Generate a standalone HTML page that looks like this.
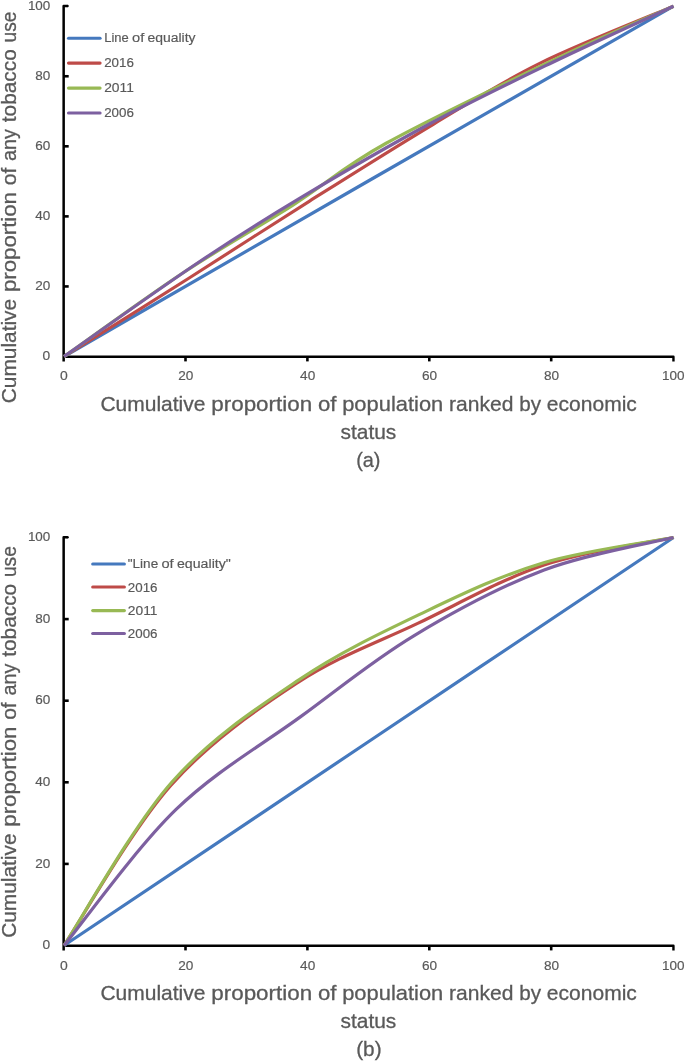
<!DOCTYPE html>
<html lang="en">
<head>
<meta charset="utf-8">
<title>Concentration curves of tobacco use</title>
<style>
html,body{margin:0;padding:0;background:#fff;}
body{width:685px;height:1061px;overflow:hidden;}
svg{display:block;filter:blur(0.45px);}
svg text{font-family:'Liberation Sans', sans-serif;fill:#595959;stroke:#595959;stroke-width:0.3px;}
svg text.s{stroke-width:0.18px;}
</style>
</head>
<body>
<svg width="685" height="1061" viewBox="0 0 685 1061">
<rect width="685" height="1061" fill="#fff"/>
<g id="chart-a">
<path d="M67.50 6.00 H63.65 V361.40" stroke="#000" stroke-width="2.50" stroke-linejoin="round" fill="none"/>
<circle cx="67.50" cy="6.00" r="1.25" fill="#000"/>
<path d="M63.65 356.75 H673.45 V361.40" stroke="#000" stroke-width="2.40" stroke-linejoin="round" fill="none"/>
<path d="M64.00 286.44 H68.70" stroke="#000" stroke-width="2.6"/>
<path d="M64.00 216.38 H68.70" stroke="#000" stroke-width="2.6"/>
<path d="M64.00 146.32 H68.70" stroke="#000" stroke-width="2.6"/>
<path d="M64.00 76.26 H68.70" stroke="#000" stroke-width="2.6"/>
<path d="M185.50 356.50 V361.40" stroke="#000" stroke-width="2.6"/>
<path d="M307.40 356.50 V361.40" stroke="#000" stroke-width="2.6"/>
<path d="M429.30 356.50 V361.40" stroke="#000" stroke-width="2.6"/>
<path d="M551.20 356.50 V361.40" stroke="#000" stroke-width="2.6"/>
<path d="M64.00 356.50 C114.79 327.21 267.17 239.13 368.75 180.75 C470.33 122.37 622.71 35.29 673.50 6.20" fill="none" stroke="#4579be" stroke-width="3.20" stroke-linejoin="round"/>
<path d="M64.00 356.50 C84.73 343.50 147.53 304.39 188.40 278.52 C229.27 252.65 268.39 226.98 309.20 201.28 C350.02 175.57 394.79 147.31 433.30 124.28 C471.81 101.26 500.23 82.80 540.26 63.12 C580.30 43.44 651.29 15.69 673.50 6.20" fill="none" stroke="#be4b48" stroke-width="3.20" stroke-linejoin="round"/>
<path d="M64.00 356.50 C83.80 342.59 144.57 298.30 182.79 273.02 C221.02 247.74 259.47 226.44 293.35 204.82 C327.24 183.19 341.57 167.97 386.12 143.27 C430.68 118.57 512.79 79.45 560.68 56.60 C608.58 33.76 654.70 14.60 673.50 6.20" fill="none" stroke="#98b954" stroke-width="3.20" stroke-linejoin="round"/>
<path d="M64.00 356.50 C86.32 340.88 158.72 289.09 197.91 262.79 C237.10 236.49 260.50 221.86 299.15 198.69 C337.79 175.51 387.48 146.50 429.76 123.76 C472.04 101.01 512.20 81.80 552.82 62.21 C593.44 42.62 653.39 15.53 673.50 6.20" fill="none" stroke="#7d60a0" stroke-width="3.20" stroke-linejoin="round"/>
<text class="s" x="42.63" y="360.25" font-size="13.70" textLength="7.67" lengthAdjust="spacingAndGlyphs">0</text>
<text class="s" x="35.25" y="290.19" font-size="13.70" textLength="15.05" lengthAdjust="spacingAndGlyphs">20</text>
<text class="s" x="35.25" y="220.13" font-size="13.70" textLength="15.05" lengthAdjust="spacingAndGlyphs">40</text>
<text class="s" x="35.25" y="150.07" font-size="13.70" textLength="15.05" lengthAdjust="spacingAndGlyphs">60</text>
<text class="s" x="35.25" y="80.01" font-size="13.70" textLength="15.05" lengthAdjust="spacingAndGlyphs">80</text>
<text class="s" x="27.88" y="9.95" font-size="13.70" textLength="22.42" lengthAdjust="spacingAndGlyphs">100</text>
<text class="s" x="59.96" y="380.20" font-size="13.70" textLength="7.77" lengthAdjust="spacingAndGlyphs">0</text>
<text class="s" x="178.18" y="380.20" font-size="13.70" textLength="15.15" lengthAdjust="spacingAndGlyphs">20</text>
<text class="s" x="300.08" y="380.20" font-size="13.70" textLength="15.15" lengthAdjust="spacingAndGlyphs">40</text>
<text class="s" x="421.98" y="380.20" font-size="13.70" textLength="15.15" lengthAdjust="spacingAndGlyphs">60</text>
<text class="s" x="543.88" y="380.20" font-size="13.70" textLength="15.15" lengthAdjust="spacingAndGlyphs">80</text>
<text class="s" x="662.09" y="380.20" font-size="13.70" textLength="22.52" lengthAdjust="spacingAndGlyphs">100</text>
<path d="M68.50 38.20 H100.10" stroke="#4579be" stroke-width="3.10" stroke-linecap="round"/>
<text class="s" y="42.00" font-size="13.70"><tspan x="104.20" textLength="24.51" lengthAdjust="spacingAndGlyphs">Line</tspan> <tspan x="132.02" textLength="12.20" lengthAdjust="spacingAndGlyphs">of</tspan> <tspan x="147.53" textLength="47.96" lengthAdjust="spacingAndGlyphs">equality</tspan></text>
<path d="M68.50 63.10 H100.10" stroke="#be4b48" stroke-width="3.10" stroke-linecap="round"/>
<text class="s" y="66.90" font-size="13.70"><tspan x="104.20" textLength="29.70" lengthAdjust="spacingAndGlyphs">2016</tspan></text>
<path d="M68.50 88.10 H100.10" stroke="#98b954" stroke-width="3.10" stroke-linecap="round"/>
<text class="s" y="91.90" font-size="13.70"><tspan x="104.20" textLength="29.70" lengthAdjust="spacingAndGlyphs">2011</tspan></text>
<path d="M68.50 113.00 H100.10" stroke="#7d60a0" stroke-width="3.10" stroke-linecap="round"/>
<text class="s" y="116.80" font-size="13.70"><tspan x="104.20" textLength="29.70" lengthAdjust="spacingAndGlyphs">2006</tspan></text>
<text y="410.90" font-size="20.80"><tspan x="100.40" textLength="105.08" lengthAdjust="spacingAndGlyphs">Cumulative</tspan> <tspan x="211.27" textLength="100.84" lengthAdjust="spacingAndGlyphs">proportion</tspan> <tspan x="317.90" textLength="18.51" lengthAdjust="spacingAndGlyphs">of</tspan> <tspan x="342.19" textLength="101.05" lengthAdjust="spacingAndGlyphs">population</tspan> <tspan x="449.03" textLength="64.36" lengthAdjust="spacingAndGlyphs">ranked</tspan> <tspan x="519.18" textLength="21.85" lengthAdjust="spacingAndGlyphs">by</tspan> <tspan x="546.82" textLength="90.09" lengthAdjust="spacingAndGlyphs">economic</tspan></text>
<text y="438.50" font-size="20.80"><tspan x="340.50" textLength="55.78" lengthAdjust="spacingAndGlyphs">status</tspan></text>
<text y="467.10" font-size="20.80"><tspan x="356.20" textLength="24.31" lengthAdjust="spacingAndGlyphs">(a)</tspan></text>
<text transform="translate(15.80 404.00) rotate(-90)" y="0" font-size="20.80"><tspan x="0.80" textLength="104.31" lengthAdjust="spacingAndGlyphs">Cumulative</tspan> <tspan x="111.91" textLength="100.06" lengthAdjust="spacingAndGlyphs">proportion</tspan> <tspan x="218.77" textLength="17.55" lengthAdjust="spacingAndGlyphs">of</tspan> <tspan x="243.12" textLength="31.91" lengthAdjust="spacingAndGlyphs">any</tspan> <tspan x="281.83" textLength="72.91" lengthAdjust="spacingAndGlyphs">tobacco</tspan> <tspan x="361.55" textLength="30.92" lengthAdjust="spacingAndGlyphs">use</tspan></text>
</g>
<g id="chart-b">
<path d="M67.50 537.30 H63.65 V950.40" stroke="#000" stroke-width="2.50" stroke-linejoin="round" fill="none"/>
<circle cx="67.50" cy="537.30" r="1.25" fill="#000"/>
<path d="M63.65 945.75 H673.45 V950.40" stroke="#000" stroke-width="2.40" stroke-linejoin="round" fill="none"/>
<path d="M64.00 863.90 H68.70" stroke="#000" stroke-width="2.6"/>
<path d="M64.00 782.30 H68.70" stroke="#000" stroke-width="2.6"/>
<path d="M64.00 700.70 H68.70" stroke="#000" stroke-width="2.6"/>
<path d="M64.00 619.10 H68.70" stroke="#000" stroke-width="2.6"/>
<path d="M185.50 945.50 V950.40" stroke="#000" stroke-width="2.6"/>
<path d="M307.40 945.50 V950.40" stroke="#000" stroke-width="2.6"/>
<path d="M429.30 945.50 V950.40" stroke="#000" stroke-width="2.6"/>
<path d="M551.20 945.50 V950.40" stroke="#000" stroke-width="2.6"/>
<path d="M64.00 945.50 C114.79 911.50 267.17 809.50 368.75 741.50 C470.33 673.50 622.71 571.50 673.50 537.50" fill="none" stroke="#4579be" stroke-width="3.20" stroke-linejoin="round"/>
<path d="M64.00 945.50 C81.80 918.82 131.99 829.15 170.78 785.44 C209.58 741.74 255.53 710.33 296.77 683.28 C338.01 656.23 377.03 642.84 418.24 623.14 C459.45 603.44 501.50 579.35 544.04 565.08 C586.59 550.81 651.92 542.10 673.50 537.50" fill="none" stroke="#be4b48" stroke-width="3.20" stroke-linejoin="round"/>
<path d="M64.00 945.50 C82.00 918.26 132.79 826.37 172.00 782.06 C211.21 737.74 256.93 708.06 299.27 679.61 C341.61 651.16 385.31 630.83 426.04 611.35 C466.78 591.87 502.43 575.02 543.68 562.71 C584.92 550.41 651.86 541.70 673.50 537.50" fill="none" stroke="#98b954" stroke-width="3.20" stroke-linejoin="round"/>
<path d="M64.00 945.50 C82.68 922.83 136.58 847.65 176.09 809.47 C215.59 771.29 261.42 745.35 301.03 716.41 C340.65 687.47 373.28 660.23 413.79 635.83 C454.30 611.42 500.82 586.36 544.10 569.98 C587.39 553.59 651.93 542.91 673.50 537.50" fill="none" stroke="#7d60a0" stroke-width="3.20" stroke-linejoin="round"/>
<text class="s" x="42.63" y="949.25" font-size="13.70" textLength="7.67" lengthAdjust="spacingAndGlyphs">0</text>
<text class="s" x="35.25" y="867.65" font-size="13.70" textLength="15.05" lengthAdjust="spacingAndGlyphs">20</text>
<text class="s" x="35.25" y="786.05" font-size="13.70" textLength="15.05" lengthAdjust="spacingAndGlyphs">40</text>
<text class="s" x="35.25" y="704.45" font-size="13.70" textLength="15.05" lengthAdjust="spacingAndGlyphs">60</text>
<text class="s" x="35.25" y="622.85" font-size="13.70" textLength="15.05" lengthAdjust="spacingAndGlyphs">80</text>
<text class="s" x="27.88" y="541.25" font-size="13.70" textLength="22.42" lengthAdjust="spacingAndGlyphs">100</text>
<text class="s" x="59.96" y="969.50" font-size="13.70" textLength="7.77" lengthAdjust="spacingAndGlyphs">0</text>
<text class="s" x="178.18" y="969.50" font-size="13.70" textLength="15.15" lengthAdjust="spacingAndGlyphs">20</text>
<text class="s" x="300.08" y="969.50" font-size="13.70" textLength="15.15" lengthAdjust="spacingAndGlyphs">40</text>
<text class="s" x="421.98" y="969.50" font-size="13.70" textLength="15.15" lengthAdjust="spacingAndGlyphs">60</text>
<text class="s" x="543.88" y="969.50" font-size="13.70" textLength="15.15" lengthAdjust="spacingAndGlyphs">80</text>
<text class="s" x="662.09" y="969.50" font-size="13.70" textLength="22.52" lengthAdjust="spacingAndGlyphs">100</text>
<path d="M92.70 564.00 H124.40" stroke="#4579be" stroke-width="3.10" stroke-linecap="round"/>
<text class="s" y="568.20" font-size="13.70"><tspan x="127.80" textLength="30.38" lengthAdjust="spacingAndGlyphs">&quot;Line</tspan> <tspan x="161.49" textLength="12.20" lengthAdjust="spacingAndGlyphs">of</tspan> <tspan x="177.00" textLength="53.84" lengthAdjust="spacingAndGlyphs">equality&quot;</tspan></text>
<path d="M92.70 587.00 H124.40" stroke="#be4b48" stroke-width="3.10" stroke-linecap="round"/>
<text class="s" y="591.60" font-size="13.70"><tspan x="127.80" textLength="29.70" lengthAdjust="spacingAndGlyphs">2016</tspan></text>
<path d="M92.70 610.60 H124.40" stroke="#98b954" stroke-width="3.10" stroke-linecap="round"/>
<text class="s" y="614.70" font-size="13.70"><tspan x="127.80" textLength="29.70" lengthAdjust="spacingAndGlyphs">2011</tspan></text>
<path d="M92.70 633.50 H124.40" stroke="#7d60a0" stroke-width="3.10" stroke-linecap="round"/>
<text class="s" y="637.60" font-size="13.70"><tspan x="127.80" textLength="29.70" lengthAdjust="spacingAndGlyphs">2006</tspan></text>
<text y="1000.10" font-size="20.80"><tspan x="100.40" textLength="105.08" lengthAdjust="spacingAndGlyphs">Cumulative</tspan> <tspan x="211.27" textLength="100.84" lengthAdjust="spacingAndGlyphs">proportion</tspan> <tspan x="317.90" textLength="18.51" lengthAdjust="spacingAndGlyphs">of</tspan> <tspan x="342.19" textLength="101.05" lengthAdjust="spacingAndGlyphs">population</tspan> <tspan x="449.03" textLength="64.36" lengthAdjust="spacingAndGlyphs">ranked</tspan> <tspan x="519.18" textLength="21.85" lengthAdjust="spacingAndGlyphs">by</tspan> <tspan x="546.82" textLength="90.09" lengthAdjust="spacingAndGlyphs">economic</tspan></text>
<text y="1028.20" font-size="20.80"><tspan x="340.50" textLength="55.78" lengthAdjust="spacingAndGlyphs">status</tspan></text>
<text y="1056.20" font-size="20.80"><tspan x="356.20" textLength="25.38" lengthAdjust="spacingAndGlyphs">(b)</tspan></text>
<text transform="translate(15.80 938.60) rotate(-90)" y="0" font-size="20.80"><tspan x="0.80" textLength="104.31" lengthAdjust="spacingAndGlyphs">Cumulative</tspan> <tspan x="111.91" textLength="100.06" lengthAdjust="spacingAndGlyphs">proportion</tspan> <tspan x="218.77" textLength="17.55" lengthAdjust="spacingAndGlyphs">of</tspan> <tspan x="243.12" textLength="31.91" lengthAdjust="spacingAndGlyphs">any</tspan> <tspan x="281.83" textLength="72.91" lengthAdjust="spacingAndGlyphs">tobacco</tspan> <tspan x="361.55" textLength="30.92" lengthAdjust="spacingAndGlyphs">use</tspan></text>
</g>
</svg>
</body>
</html>
